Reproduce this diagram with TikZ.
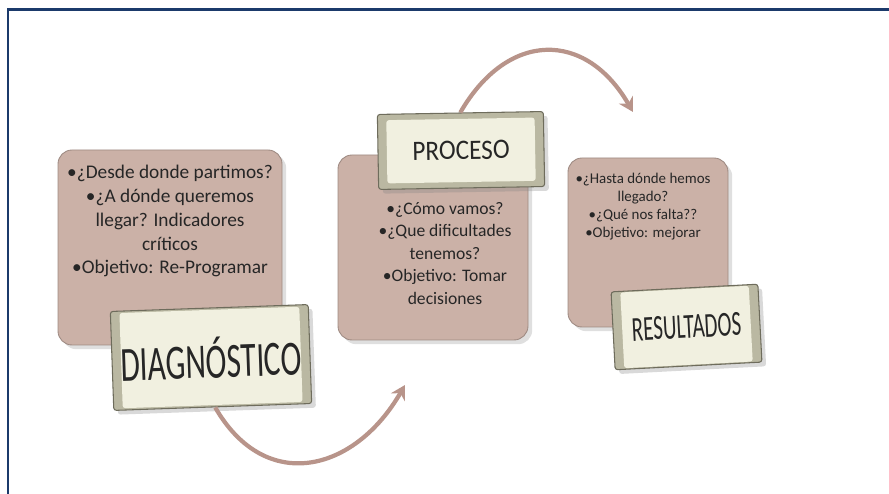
\documentclass[tikz,border=0pt]{standalone}
\usepackage{fontspec}
\setmainfont{Carlito}
\usepackage{graphicx}
\usepackage{xcolor}
\usetikzlibrary{arrows.meta,shadows}

\definecolor{framec}{HTML}{1B3A6B}
\definecolor{pinkc}{HTML}{CBB1A7}
\definecolor{pinkedge}{HTML}{9E8A82}
\definecolor{bevelc}{HTML}{BAB8A2}
\definecolor{facec}{HTML}{F1F0E0}
\definecolor{arrowc}{HTML}{B8948A}
\definecolor{textc}{HTML}{262626}

\begin{document}
\begin{tikzpicture}[scale=1,
  pinkbox/.style={draw=pinkedge, fill=pinkc, rounded corners=8pt, inner sep=0pt, line width=0.5pt, drop shadow={opacity=0.25}},
  bodytxt/.style={align=center, text=textc, inner sep=0pt, anchor=north},
  lblbox/.style={draw={rgb,255:red,110;green,108;blue,92}, fill=bevelc, rounded corners=1.5pt, inner sep=0pt, line width=0.6pt, text=textc, drop shadow={opacity=0.3},
    path picture={\fill[facec] ([shift={(5pt,-5pt)}]path picture bounding box.north west) rectangle ([shift={(-5pt,5pt)}]path picture bounding box.south east);}},
  flow/.style={arrowc, line width=2.4pt, -{Stealth[length=8pt,width=9pt]}},
]
\useasboundingbox (0,0) rectangle (17.78,9.88);
% Frame
\draw[framec, line width=1.7pt] (0.16,0) -- (0.16,9.68) -- (17.78,9.68);

% Boxes
\node[pinkbox, minimum width=4.48cm, minimum height=3.9cm] (diagbox) at (3.40,4.93) {};
\node[pinkbox, minimum width=3.8cm, minimum height=3.7cm] (procbox) at (8.66,4.93) {};
\node[pinkbox, minimum width=3.2cm, minimum height=3.38cm] (resbox) at (12.96,5.03) {};

% Texts
\node[bodytxt, font=\fontsize{11}{13.6}\selectfont] (diagtxt) at ([yshift=-0.3cm]diagbox.north)
  {•¿Desde donde partimos?\\ •¿A dónde queremos\\ llegar? Indicadores\\ críticos\\ •Objetivo: Re-Programar};
\node[bodytxt, font=\fontsize{10}{12.8}\selectfont] (proctxt) at ([xshift=0.24cm,yshift=-0.95cm]procbox.north)
  {•¿Cómo vamos?\\ •¿Que dificultades\\ tenemos?\\ •Objetivo: Tomar\\ decisiones};
\node[bodytxt, font=\fontsize{8.5}{10.2}\selectfont] (restxt) at ([xshift=-0.1cm,yshift=-0.3cm]resbox.north)
  {•¿Hasta dónde hemos\\ llegado?\\ •¿Qué nos falta??\\ •Objetivo: mejorar};

% Labels
\node[lblbox, rotate=2, minimum width=3.96cm, minimum height=1.98cm] (diaglbl) at (4.22,2.73)
  {\scalebox{0.64}[1]{\fontsize{28}{30}\selectfont DIAGNÓSTICO}};
\node[lblbox, rotate=1, minimum width=3.32cm, minimum height=1.5cm] (proclbl) at (9.22,6.87)
  {\scalebox{0.9}[1]{\fontsize{16}{18}\selectfont PROCESO}};
\node[lblbox, rotate=3, minimum width=2.94cm, minimum height=1.56cm] (reslbl) at (13.73,3.34)
  {\scalebox{0.6}[1]{\fontsize{20}{22}\selectfont RESULTADOS}};

% Arrows
\coordinate (toproc) at (8.10,2.18);
\coordinate (tores) at (12.66,7.64);
\draw[flow] ([xshift=0.05cm]diaglbl.south) to[out=-60,in=240,looseness=1.35] (toproc);
\draw[flow] (proclbl.north) to[out=60,in=120,looseness=1.4] (tores);
\end{tikzpicture}
\end{document}
